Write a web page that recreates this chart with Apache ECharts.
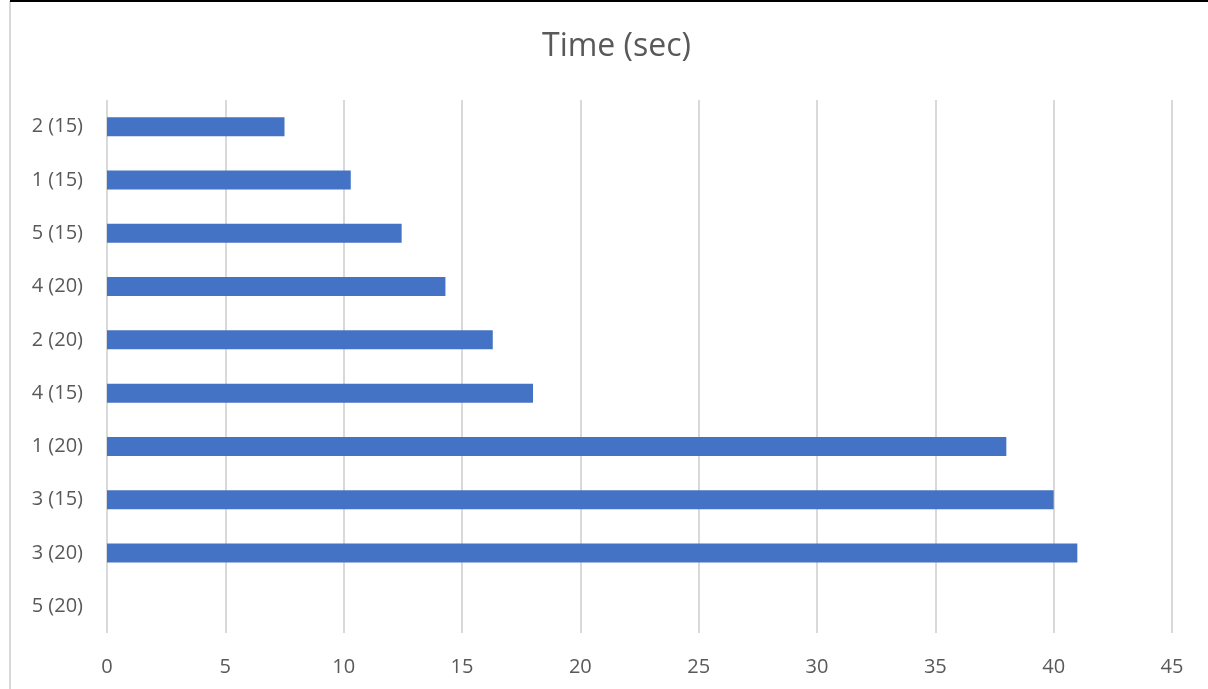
<!DOCTYPE html>
<html>
<head>
<meta charset="utf-8">
<script src="https://cdn.jsdelivr.net/npm/echarts@6/dist/echarts.min.js"></script>
<style>
  html, body { margin: 0; padding: 0; background: #fff; }
  #chart { width: 1208px; height: 689px; }
</style>
</head>
<body>
<div id="chart"></div>
<script>
// Runs listed top to bottom
const categories = ['2 (15)', '1 (15)', '5 (15)', '4 (20)', '2 (20)', '4 (15)', '1 (20)', '3 (15)', '3 (20)', '5 (20)'];
const timeSec = [7.5, 10.3, 12.45, 14.3, 16.3, 18, 38, 40, 41, 0];
const xMin = 0, xMax = 45, xStep = 5;

const textColor = '#595959';
const fontFamily = '"Open Sans", "Liberation Sans", sans-serif';

const chart = echarts.init(document.getElementById('chart'), null, { renderer: 'canvas' });
chart.setOption({
  animation: false,
  backgroundColor: '#ffffff',
  title: {
    text: 'Time (sec)',
    left: 537,
    top: 26,
    textStyle: { color: textColor, fontSize: 32, fontWeight: 'normal', fontFamily }
  },
  grid: { left: 107, right: 36, top: 100, bottom: 56, containLabel: false },
  xAxis: {
    type: 'value',
    min: xMin, max: xMax, interval: xStep,
    axisLine: { show: false },
    axisTick: { show: false },
    splitLine: { show: true, lineStyle: { color: '#d9d9d9', width: 2 } },
    axisLabel: { color: textColor, fontSize: 20, fontFamily, margin: 24 }
  },
  yAxis: {
    type: 'category',
    data: categories,
    inverse: true,
    axisLine: { show: false },
    axisTick: { show: false },
    axisLabel: { color: textColor, fontSize: 20, fontFamily, margin: 24 }
  },
  series: [{
    type: 'bar',
    data: timeSec,
    barWidth: 19,
    itemStyle: { color: '#4472C4' }
  }],
  graphic: [
    { type: 'line', shape: { x1: 10, y1: 1, x2: 10, y2: 689 }, style: { stroke: '#d9d9d9', lineWidth: 2 }, silent: true },
    { type: 'line', shape: { x1: 10, y1: 1, x2: 1208, y2: 1 }, style: { stroke: '#000000', lineWidth: 2 }, silent: true }
  ]
});
</script>
</body>
</html>
